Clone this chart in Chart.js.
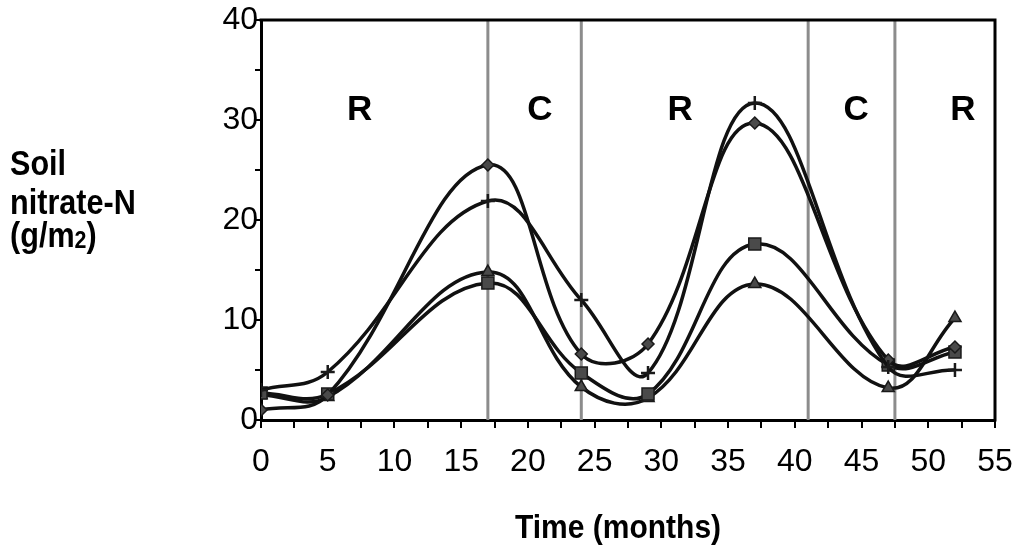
<!DOCTYPE html>
<html>
<head>
<meta charset="utf-8">
<script src="https://cdn.jsdelivr.net/npm/chart.js@4.4.0/dist/chart.umd.min.js"></script>
<style>
  html, body { margin: 0; padding: 0; background: #fff; }
</style>
</head>
<body>
<canvas id="chart" width="1016" height="549"></canvas>
<script>
// values (months / g per m2)
const months = [0, 5, 17, 24, 29, 37, 47, 52];
const plusValues = [3.0, 4.8, 21.9, 12.0, 4.7, 31.7, 5.3, 5.0];
const diamondValues = [1.0, 2.5, 25.5, 6.6, 7.6, 29.7, 6.0, 7.3];
const squareValues = [2.7, 2.6, 13.7, 4.7, 2.6, 17.6, 5.5, 6.8];
const triangleValues = [2.5, 2.3, 14.8, 3.3, 2.2, 13.6, 3.2, 10.2];

// R / C phase boundaries and labels
const boundaries = [17, 24, 41, 47.5];
const regionLabels = ['R', 'C', 'R', 'C', 'R'];
const regionLabelMonths = [7.4, 20.9, 31.4, 44.6, 52.6];

const FONT = "'Liberation Sans', Arial, Helvetica, sans-serif";

function makeSeries(values, style, radius) {
  return {
    data: months.map((m, i) => ({ x: m, y: values[i] })),
    borderColor: '#111',
    borderWidth: 3.5,
    tension: 0.4,
    pointStyle: style,
    pointRadius: radius,
    pointBackgroundColor: '#4a4a4a',
    pointBorderColor: '#1a1a1a',
    pointBorderWidth: style === 'cross' ? 2.5 : 1.5
  };
}

const annotations = {
  id: 'annotations',
  beforeDatasetsDraw(chart) {
    const { ctx, chartArea: a, scales: { x } } = chart;
    ctx.save();
    ctx.strokeStyle = '#8c8c8c';
    ctx.lineWidth = 3;
    boundaries.forEach(m => {
      const px = x.getPixelForValue(m);
      ctx.beginPath();
      ctx.moveTo(px, a.top);
      ctx.lineTo(px, a.bottom);
      ctx.stroke();
    });
    ctx.restore();
  },
  afterDraw(chart) {
    const { ctx, chartArea: a, scales: { x } } = chart;
    ctx.save();
    // top and right frame
    ctx.strokeStyle = '#000';
    ctx.lineWidth = 3;
    ctx.beginPath();
    ctx.moveTo(a.left - 1.5, a.top);
    ctx.lineTo(a.right, a.top);
    ctx.lineTo(a.right, a.bottom + 1.5);
    ctx.stroke();

    ctx.fillStyle = '#000';
    // region labels
    ctx.font = 'bold 35px ' + FONT;
    ctx.textAlign = 'center';
    ctx.textBaseline = 'alphabetic';
    regionLabels.forEach((t, i) => {
      ctx.fillText(t, x.getPixelForValue(regionLabelMonths[i]), 120);
    });

    // x title
    ctx.save();
    ctx.translate(618, 538);
    ctx.scale(1, 1.12);
    ctx.font = 'bold 30px ' + FONT;
    ctx.fillText('Time (months)', 0, 0);
    ctx.restore();

    // y title
    ctx.textAlign = 'left';
    const lines = [['Soil', 175], ['nitrate-N', 214]];
    lines.forEach(([t, by]) => {
      ctx.save();
      ctx.translate(10, by);
      ctx.scale(1.02, 1.15);
      ctx.font = 'bold 30px ' + FONT;
      ctx.fillText(t, 0, 0);
      ctx.restore();
    });
    ctx.save();
    ctx.translate(10, 247);
    ctx.scale(1.02, 1.15);
    ctx.font = 'bold 30px ' + FONT;
    const p1 = '(g/m';
    ctx.fillText(p1, 0, 0);
    let w = ctx.measureText(p1).width;
    ctx.font = 'bold 21px ' + FONT;
    ctx.fillText('2', w, 1);
    w += ctx.measureText('2').width;
    ctx.font = 'bold 30px ' + FONT;
    ctx.fillText(')', w, 0);
    ctx.restore();

    ctx.restore();
  }
};

new Chart(document.getElementById('chart'), {
  type: 'line',
  data: {
    datasets: [
      makeSeries(plusValues, 'cross', 7),
      makeSeries(diamondValues, 'rectRot', 6),
      makeSeries(squareValues, 'rect', 8.5),
      makeSeries(triangleValues, 'triangle', 7)
    ]
  },
  options: {
    responsive: false,
    animation: false,
    devicePixelRatio: 1,
    layout: { padding: { top: 20, right: 21, left: 0, bottom: 0 } },
    plugins: { legend: { display: false }, tooltip: { enabled: false } },
    scales: {
      x: {
        type: 'linear',
        min: 0,
        max: 55,
        border: { color: '#000', width: 3 },
        grid: { drawOnChartArea: false, drawTicks: true, tickLength: 8, color: '#000', lineWidth: 2 },
        ticks: {
          stepSize: 2.5,
          autoSkip: false,
          maxRotation: 0,
          padding: 15,
          color: '#000',
          font: { family: FONT, size: 32 },
          callback: v => (v % 5 === 0 ? String(v) : '')
        },
        afterFit(s) {
          s.height = 129;
          s.paddingLeft = 0;
          s.paddingRight = 0;
        }
      },
      y: {
        min: 0,
        max: 40,
        border: { color: '#000', width: 3 },
        grid: { drawOnChartArea: false, drawTicks: true, tickLength: 6, color: '#000', lineWidth: 2 },
        ticks: {
          stepSize: 5,
          autoSkip: false,
          padding: -3,
          color: '#000',
          font: { family: FONT, size: 32 },
          callback: v => (v % 10 === 0 ? String(v) : '')
        },
        afterFit(s) {
          s.width = 261;
          s.paddingTop = 0;
          s.paddingBottom = 0;
        }
      }
    }
  },
  plugins: [annotations]
});
</script>
</body>
</html>
